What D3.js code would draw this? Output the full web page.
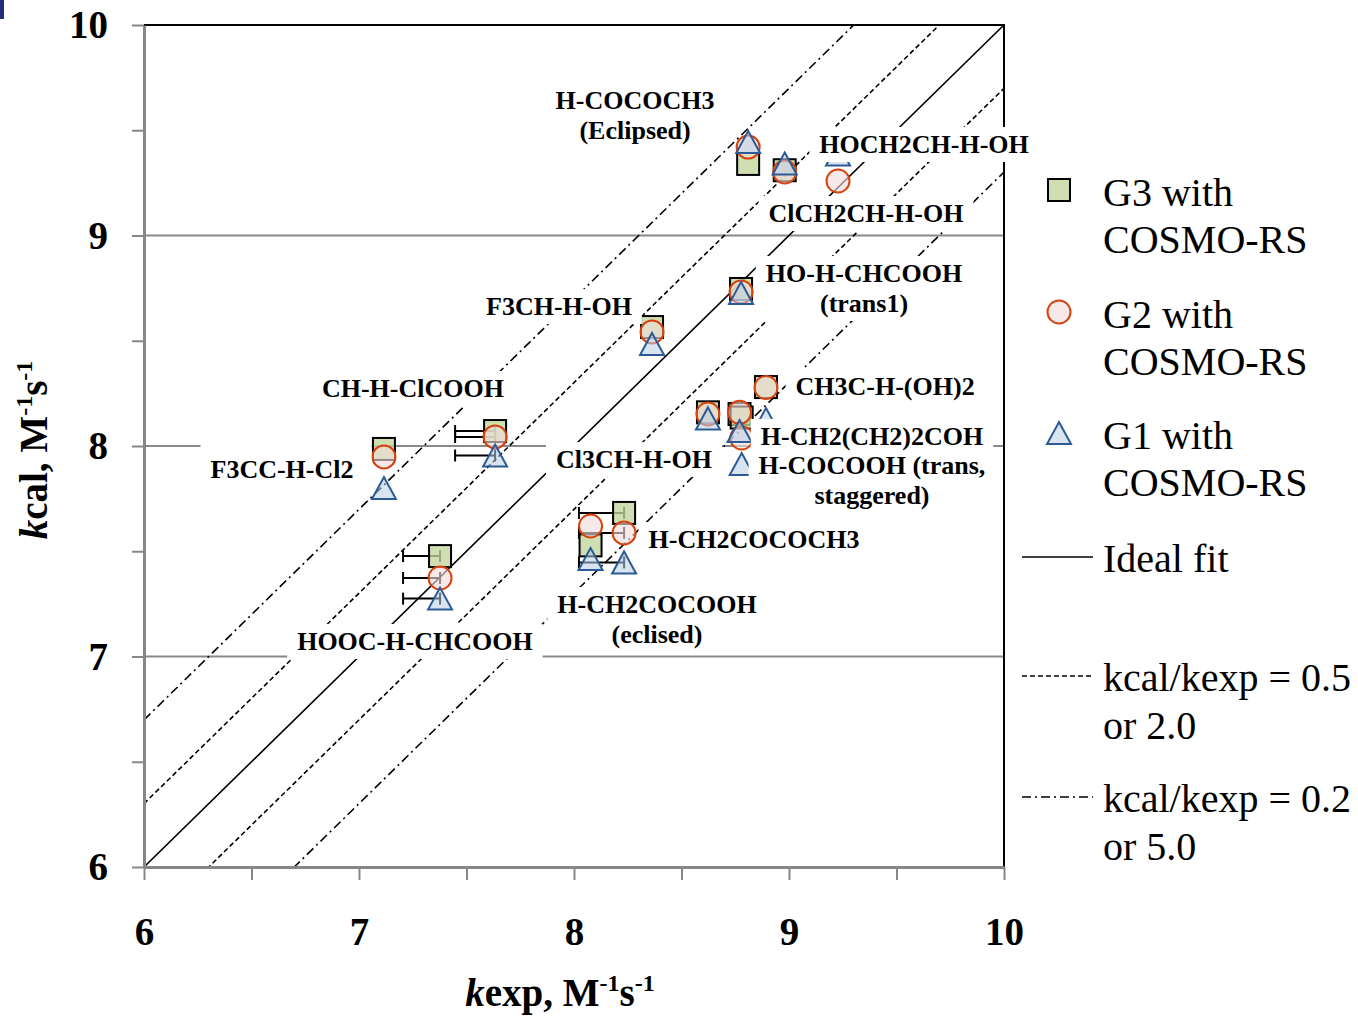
<!DOCTYPE html>
<html>
<head>
<meta charset="utf-8">
<script src="https://cdn.jsdelivr.net/npm/d3@7"></script>
<style>
  body { margin: 0; background: #fff; }
  svg { font-family: "Liberation Serif", "Times New Roman", serif; }
</style>
</head>
<body>
<div id="chart"></div>
<script>
// molecules, experimental k and the three calculated sets
const molecules = ["H-COCOCH3", "ClCH2CH-H-OH", "HOCH2CH-H-OH", "F3CH-H-OH", "HO-H-CHCOOH", "CH3C-H-(OH)2",
  "Cl3CH-H-OH", "H-CH2(CH2)2COH", "H-COCOOH", "CH-H-ClCOOH", "F3CC-H-Cl2", "HOOC-H-CHCOOH", "H-CH2COCOOH", "H-CH2COCOCH3"];
const kexp   = [8.81, 8.98, 9.228, 8.363, 8.777, 8.893, 8.623, 8.77, 8.78, 7.633, 7.116, 7.377, 8.077, 8.233];
const kcalG3 = [9.34, 9.31, null, 8.565, 8.746, 8.28, 8.16, 8.152, 8.135, 8.071, 7.986, 7.477, 7.528, 7.682];
const kcalG2 = [9.42, 9.302, 9.259, 8.542, 8.732, 8.278, 8.152, 8.16, 8.038, 8.043, 7.948, 7.373, 7.62, 7.587];
const kcalG1 = [9.444, 9.342, 9.385, 8.485, 8.727, 8.128, 8.131, 8.071, 7.914, 7.955, 7.80, 7.275, 7.463, 7.447];
const kexpErrMinus = [0, 0, 0, 0, 0, 0, 0, 0, 0, 0.186, 0, 0.172, 0, 0.21];

const seriesNames = ["G3 with COSMO-RS", "G2 with COSMO-RS", "G1 with COSMO-RS"];
const refOffsets = [0, Math.log10(2), -Math.log10(2), Math.log10(5), -Math.log10(5)]; // log ratio lines
const xTicks = [6, 7, 8, 9, 10];
const yTicks = [6, 7, 8, 9, 10];

// data label annotations (anchor in data units, first-line baseline)
const labels = [
  {lines: ["H-COCOCH3", "(Eclipsed)"], x: 8.284, y: 9.601},
  {lines: ["HOCH2CH-H-OH"], x: 9.628, y: 9.392},
  {lines: ["ClCH2CH-H-OH"], x: 9.358, y: 9.064},
  {lines: ["HO-H-CHCOOH", "(trans1)"], x: 9.349, y: 8.779},
  {lines: ["F3CH-H-OH"], x: 7.930, y: 8.622},
  {lines: ["CH-H-ClCOOH"], x: 7.251, y: 8.233},
  {lines: ["CH3C-H-(OH)2"], x: 9.447, y: 8.242},
  {lines: ["H-COCOOH (trans,", "staggered)"], x: 9.386, y: 7.867},
  {lines: ["H-CH2(CH2)2COH"], x: 9.386, y: 8.005},
  {lines: ["F3CC-H-Cl2"], x: 6.642, y: 7.848, padTop: 14, padRight: 8},
  {lines: ["Cl3CH-H-OH"], x: 8.279, y: 7.895},
  {lines: ["H-CH2COCOCH3"], x: 8.837, y: 7.515},
  {lines: ["H-CH2COCOOH", "(eclised)"], x: 8.386, y: 7.207},
  {lines: ["HOOC-H-CHCOOH"], x: 7.260, y: 7.031}
];

const margin = {top: 25, left: 144};
const width = 860, height = 842;

const svg = d3.select("#chart").append("svg")
  .attr("width", 1358).attr("height", 1018);

svg.append("rect").attr("x", 0).attr("y", 0).attr("width", 4).attr("height", 19).attr("fill", "#262c78");

const g = svg.append("g").attr("transform", `translate(${margin.left},${margin.top})`);

const x = d3.scaleLinear().domain([6, 10]).range([0, width]);
const y = d3.scaleLinear().domain([6, 10]).range([height, 0]);

g.append("clipPath").attr("id", "plotclip")
  .append("rect").attr("width", width).attr("height", height);

// gridlines
g.append("g").selectAll("line")
  .data(yTicks.filter(d => d > 6 && d < 10))
  .enter().append("line")
  .attr("x1", 0).attr("x2", width)
  .attr("y1", d => y(d)).attr("y2", d => y(d))
  .attr("stroke", "#898989").attr("stroke-width", 2);

// top and right border
g.append("path")
  .attr("d", `M0,0H${width}V${height}`)
  .attr("fill", "none").attr("stroke", "#000").attr("stroke-width", 2);

// reference lines kcal = kexp + offset
const dashFor = o => o === 0 ? null : (Math.abs(o) < 0.5 ? "5,3" : "9,4,2,4");
g.append("g").attr("clip-path", "url(#plotclip)")
  .selectAll("line").data(refOffsets).enter().append("line")
  .attr("x1", x(6)).attr("y1", d => y(6 + d))
  .attr("x2", x(10)).attr("y2", d => y(10 + d))
  .attr("stroke", "#000").attr("stroke-width", 1.6)
  .attr("stroke-dasharray", dashFor);

// error bars (minus direction, with caps)
const errData = [];
kexp.forEach((k, i) => {
  if (!kexpErrMinus[i]) return;
  [kcalG3[i], kcalG2[i], kcalG1[i]].forEach(v => {
    if (v != null) errData.push({x0: k - kexpErrMinus[i], x1: k, y: v});
  });
});
const eb = g.append("g").selectAll("g").data(errData).enter().append("g")
  .attr("stroke", "#000").attr("stroke-width", 2);
eb.append("line").attr("x1", d => x(d.x0)).attr("x2", d => x(d.x1)).attr("y1", d => y(d.y)).attr("y2", d => y(d.y));
eb.append("line").attr("x1", d => x(d.x0)).attr("x2", d => x(d.x0)).attr("y1", d => y(d.y) - 6).attr("y2", d => y(d.y) + 6);
eb.append("line").attr("x1", d => x(d.x1)).attr("x2", d => x(d.x1)).attr("y1", d => y(d.y) - 6).attr("y2", d => y(d.y) + 6);

// marker shapes
const markerStyles = [
  {shape: "square", fill: "#c3d69b", stroke: "#000", op: 0.78},
  {shape: "circle", fill: "#f2dcdb", stroke: "#d5420e", op: 0.62},
  {shape: "triangle", fill: "#b9cde5", stroke: "#2c5a96", op: 0.55}
];
function drawMarker(sel, st) {
  let m;
  if (st.shape === "square") m = sel.append("rect").attr("x", -11).attr("y", -11).attr("width", 22).attr("height", 22);
  else if (st.shape === "circle") m = sel.append("circle").attr("r", 11.5);
  else m = sel.append("path").attr("d", "M0,-11L12,11L-12,11Z");
  m.attr("fill", st.fill).attr("fill-opacity", st.op)
    .attr("stroke", st.stroke).attr("stroke-width", 2).attr("stroke-linejoin", "miter");
}

[kcalG3, kcalG2, kcalG1].forEach((vals, s) => {
  const pts = kexp.map((k, i) => ({x: k, y: vals[i], name: molecules[i]})).filter(d => d.y != null);
  g.append("g").selectAll("g").data(pts).enter().append("g")
    .attr("transform", d => `translate(${x(d.x)},${y(d.y)})`)
    .each(function () { drawMarker(d3.select(this), markerStyles[s]); });
});

// axes
const tickVals = d3.range(6, 10.01, 0.5);
const fmt = d => Number.isInteger(d) ? d : "";
const xAxis = g.append("g").attr("transform", `translate(0,${height})`)
  .call(d3.axisBottom(x).tickValues(tickVals).tickFormat(fmt).tickSize(13).tickSizeOuter(0));
const yAxis = g.append("g")
  .call(d3.axisLeft(y).tickValues(tickVals).tickFormat(fmt).tickSize(12).tickSizeOuter(0));
[xAxis, yAxis].forEach(a => {
  a.select(".domain").attr("stroke", "#878787").attr("stroke-width", 3);
  a.selectAll(".tick line").attr("stroke", "#878787").attr("stroke-width", 2);
  a.selectAll(".tick text").attr("fill", "#000")
    .style("font-family", "'Liberation Serif', 'Times New Roman', serif")
    .style("font-size", "39px").style("font-weight", "bold");
});
xAxis.selectAll(".tick text").attr("y", 78).attr("dy", 0);
yAxis.selectAll(".tick text").attr("x", -36).attr("dy", "0.33em");

// axis titles
const xt = svg.append("text").attr("x", 560).attr("y", 1006).attr("text-anchor", "middle")
  .style("font-size", "39px").style("font-weight", "bold");
xt.append("tspan").style("font-style", "italic").text("k");
xt.append("tspan").text("exp, M");
xt.append("tspan").attr("dy", -15).style("font-size", "24px").text("-1");
xt.append("tspan").attr("dy", 15).text("s");
xt.append("tspan").attr("dy", -15).style("font-size", "24px").text("-1");

const yt = svg.append("text").attr("transform", "translate(47,450) rotate(-90)").attr("text-anchor", "middle")
  .style("font-size", "39px").style("font-weight", "bold");
yt.append("tspan").style("font-style", "italic").text("k");
yt.append("tspan").text("cal, M");
yt.append("tspan").attr("dy", -15).style("font-size", "24px").text("-1");
yt.append("tspan").attr("dy", 15).text("s");
yt.append("tspan").attr("dy", -15).style("font-size", "24px").text("-1");

// data labels with white boxes
labels.forEach(lb => {
  const lg = g.append("g");
  const box = lg.append("rect").attr("fill", "#fff");
  const t = lg.append("text").attr("text-anchor", "middle")
    .style("font-size", "26px").style("font-weight", "bold");
  lb.lines.forEach((ln, i) => {
    t.append("tspan").attr("x", x(lb.x)).attr("y", y(lb.y) + i * 30).text(ln);
  });
  const bb = t.node().getBBox();
  const padX = 10, padY = 3;
  const pt = lb.padTop || padY, pr = lb.padRight || 0;
  box.attr("x", bb.x - padX).attr("y", bb.y - pt)
    .attr("width", bb.width + 2 * padX + pr).attr("height", bb.height + pt + padY);
});

// legend
const legend = svg.append("g");
const legX = 1059, textX = 1103;
const legY = [190, 312, 433];
markerStyles.forEach((st, i) => {
  const m = legend.append("g").attr("transform", `translate(${legX},${legY[i]})`);
  drawMarker(m, st);
  const parts = seriesNames[i].split(" COSMO");
  const t = legend.append("text").attr("x", textX).attr("y", legY[i] + 16).style("font-size", "40px");
  t.append("tspan").attr("x", textX).text(parts[0]);
  t.append("tspan").attr("x", textX).attr("dy", 47).text("COSMO" + parts[1]);
});
const lineLeg = [
  {dash: null, y: 557, lines: ["Ideal fit"]},
  {dash: "5,3", y: 676, lines: ["kcal/kexp = 0.5", "or 2.0"]},
  {dash: "9,4,2,4", y: 797, lines: ["kcal/kexp = 0.2", "or 5.0"]}
];
lineLeg.forEach(l => {
  legend.append("line").attr("x1", 1022).attr("x2", 1093).attr("y1", l.y).attr("y2", l.y)
    .attr("stroke", "#000").attr("stroke-width", 1.6).attr("stroke-dasharray", l.dash);
  const t = legend.append("text").attr("y", l.y + 15).style("font-size", "40px");
  l.lines.forEach((s, i) => t.append("tspan").attr("x", textX).attr("dy", i ? 48 : 0).text(s));
});
</script>
</body>
</html>
